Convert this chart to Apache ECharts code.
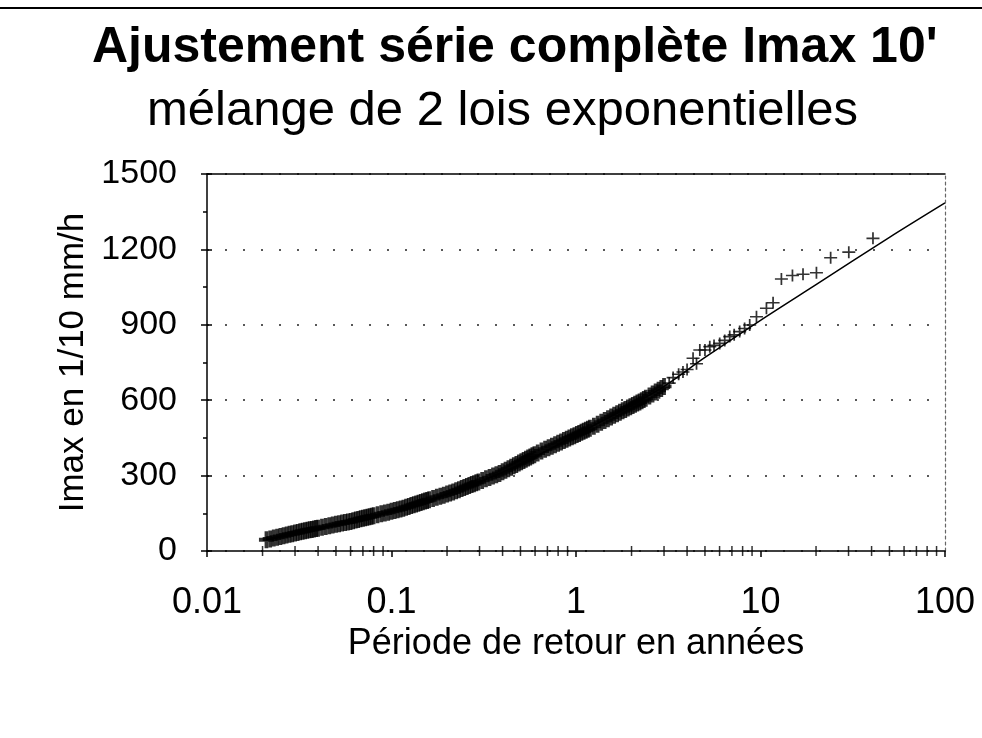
<!DOCTYPE html>
<html><head><meta charset="utf-8">
<script src="https://cdn.jsdelivr.net/npm/echarts@6/dist/echarts.min.js"></script>
<style>html,body{margin:0;padding:0;background:#fff}#c{width:982px;height:738px}</style>
</head><body><div id="c"></div>
<script>
// ---- data ----
const titleText = "Ajustement série complète Imax 10'";
const subtitleText = "mélange de 2 lois exponentielles";
const xName = "Période de retour en années";
const yName = "Imax en 1/10 mm/h";
const yTicks = [0, 300, 600, 900, 1200, 1500];
const xMinorTicks = [0.02,0.03,0.04,0.05,0.06,0.07,0.08,0.09,0.2,0.3,0.4,0.5,0.6,0.7,0.8,0.9,2,3,4,5,6,7,8,9,20,30,40,50,60,70,80,90];

// observed series (return period in years, Imax)
const returnPeriod = [
0.021,0.022,0.023,0.024,0.025,0.026,0.027,0.028,0.029,0.030,0.031,0.032,0.033,0.034,0.035,0.036,0.037,0.038,0.039,0.040,
0.042,0.044,0.046,0.048,0.050,0.052,0.054,0.056,0.058,0.060,0.062,0.064,0.066,0.068,0.070,0.072,0.074,0.076,0.078,0.080,
0.084,0.088,0.092,0.096,0.100,0.104,0.108,0.112,0.116,0.120,0.124,0.128,0.132,0.136,0.140,0.144,0.148,0.152,0.156,0.160,
0.168,0.176,0.184,0.192,0.200,0.208,0.216,0.224,0.232,0.240,0.248,0.256,0.264,0.272,0.280,0.288,0.296,
0.310,0.325,0.340,0.355,0.370,0.385,0.400,0.415,0.430,0.445,0.460,0.475,0.490,0.505,0.520,0.535,0.550,0.565,0.580,0.595,
0.62,0.65,0.68,0.71,0.74,0.77,0.80,0.83,0.86,0.89,0.92,0.95,0.98,1.01,1.04,1.07,1.10,1.13,1.16,1.19,
1.25,1.31,1.37,1.43,1.49,1.55,1.61,1.67,1.73,1.79,1.85,1.91,1.97,2.03,2.09,2.15,2.21,2.27,2.33,2.39,
2.5,2.6,2.7,2.8,2.9,3.0,3.2,3.36,3.6,3.8,4.0,4.31,4.5,4.69,5.0,5.31,5.6,6.01,6.4,6.81,7.2,7.71,8.2,8.74,9.51,10.77,11.7,12.98,14.9,17.0,20.1,24.0,30.1,40.7
];
const imaxObserved = [
45,48,52,55,58,61,64,67,69,72,74,77,79,81,83,85,86,88,90,91,
94,97,100,103,106,108,111,113,115,117,120,123,125,128,130,132,134,136,138,140,
144,148,151,154,158,161,164,167,170,174,177,181,184,187,190,193,196,199,201,204,
209,214,218,222,227,231,235,240,244,249,253,257,261,265,268,272,275,
281,287,292,298,303,308,315,321,327,333,339,344,350,355,360,365,370,374,379,383,
390,398,405,411,417,423,429,434,440,445,450,455,459,464,468,472,476,480,484,488,
496,504,512,519,526,533,540,546,552,558,563,569,574,579,584,589,593,598,603,608,
617,625,633,640,647,655,668,690,703,712,722,767,745,800,800,813,818,826,838,853,860,873,885,899,932,966,988,1082,1096,1101,1107,1167,1189,1244
];

// fitted mixture of 2 exponential laws
const fitPeriod = [0.021,0.05,0.1,0.2,0.5,1,2,3,5,10,20,50,100];
const fitImax   = [45,103,155,225,345,462,580,655,770,918,1060,1248,1385];

const denseLimit = 3.1; // years: dense band below, isolated crosses above
const obs = returnPeriod.map((t, i) => [t, imaxObserved[i]]);
const obsDense = obs.filter(p => p[0] < denseLimit);
const obsSparse = obs.filter(p => p[0] >= denseLimit);
const fit = fitPeriod.map((t, i) => [t, fitImax[i]]);
const tickMarks = xMinorTicks.map(t => [t, 0]);

const FONT = '"Liberation Sans", Arial, Helvetica, sans-serif';
const plusBold = 'path://M0,4.6H12V7.4H0Z M4.5,0H7.5V12H4.5Z';
const plusThin = 'path://M0,5.2H12V6.8H0Z M5.2,0H6.8V12H5.2Z';

const chart = echarts.init(document.getElementById('c'), null, {renderer: 'canvas'});
chart.setOption({
  backgroundColor: '#fff',
  animation: false,
  textStyle: {fontFamily: FONT, color: '#000'},
  title: [
    {text: titleText, left: 87, top: 18, textStyle: {fontFamily: FONT, fontSize: 50, fontWeight: 'bold', color: '#000'}},
    {text: subtitleText, left: 142, top: 82, textStyle: {fontFamily: FONT, fontSize: 49, fontWeight: 'normal', color: '#000'}}
  ],
  graphic: [{type: 'rect', shape: {x: 0, y: 7, width: 982, height: 2}, style: {fill: '#000'}}],
  grid: {left: 207, right: 37, top: 174, bottom: 187, containLabel: false},
  xAxis: [{
    type: 'log', logBase: 10, min: 0.01, max: 100, position: 'bottom',
    name: xName, nameLocation: 'middle', nameGap: 71,
    nameTextStyle: {fontFamily: FONT, fontSize: 36, color: '#000'},
    axisLine: {show: true, onZero: false, lineStyle: {color: '#000', width: 1.5}},
    axisTick: {show: true, length: 6, lineStyle: {color: '#000', width: 1.5}},
    axisLabel: {fontFamily: FONT, fontSize: 36, color: '#000', margin: 34,
      formatter: v => (v < 1 ? String(+v.toPrecision(1)) : String(Math.round(v)))},
    splitLine: {show: false}, minorTick: {show: false}
  }, {
    type: 'log', logBase: 10, min: 0.01, max: 100, position: 'top',
    axisLine: {show: true, onZero: false, lineStyle: {color: '#000', width: 1.5}},
    axisTick: {show: false}, axisLabel: {show: false}, splitLine: {show: false}
  }],
  yAxis: [{
    type: 'value', min: 0, max: 1500, interval: 300, position: 'left',
    name: yName, nameLocation: 'middle', nameGap: 92, nameRotate: 90,
    nameTextStyle: {fontFamily: FONT, fontSize: 35, color: '#000'},
    axisLine: {show: true, onZero: false, lineStyle: {color: '#000', width: 1.5}},
    axisTick: {show: true, length: 6, lineStyle: {color: '#000', width: 1.5}},
    minorTick: {show: true, splitNumber: 2, length: 4, lineStyle: {color: '#000', width: 1.5}},
    axisLabel: {fontFamily: FONT, fontSize: 34, color: '#000', margin: 30, formatter: v => String(v)},
    splitLine: {show: true, lineStyle: {color: '#222', width: 1.5, type: [2, 16]}}
  }, {
    type: 'value', min: 0, max: 1500, interval: 300, position: 'right',
    axisLine: {show: true, onZero: false, lineStyle: {color: '#666', width: 1.2, type: [3, 3]}},
    axisTick: {show: false}, axisLabel: {show: false}, splitLine: {show: false}
  }, {
    type: 'value', min: 0, max: 1500, interval: 300, position: 'left',
    axisLine: {show: false, onZero: false},
    axisTick: {show: true, inside: true, length: 5, lineStyle: {color: '#000', width: 1.5}},
    minorTick: {show: false},
    axisLabel: {show: false}, splitLine: {show: false}
  }],
  series: [
    {type: 'scatter', name: 'minor ticks', data: tickMarks, symbol: 'rect', symbolSize: [1.5, 10],
     itemStyle: {color: '#000'}, clip: false, silent: true, z: 1},
    {type: 'scatter', name: 'observé', data: obsDense, symbol: plusBold, symbolSize: [15, 17],
     itemStyle: {color: '#000'}, clip: false, z: 3},
    {type: 'scatter', name: 'observé (T>3 ans)', data: obsSparse, symbol: plusThin, symbolSize: [13, 12],
     itemStyle: {color: '#000'}, clip: false, z: 3},
    {type: 'line', name: 'ajustement', data: fit, smooth: 0.3, showSymbol: false, symbol: 'none',
     lineStyle: {color: '#000', width: 1.5}, z: 4}
  ]
});
</script>
</body></html>
